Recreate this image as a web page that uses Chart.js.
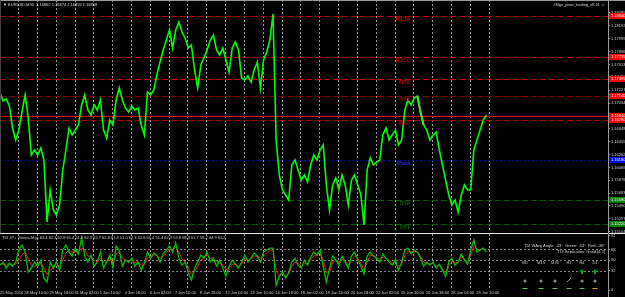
<!DOCTYPE html>
<html>
<head>
<meta charset="utf-8">
<script src="https://cdn.jsdelivr.net/npm/chart.js@4"></script>
<style>
  html, body { margin: 0; padding: 0; background: #000; }
  #wrap { position: relative; width: 625px; height: 297px; overflow: hidden; background: #000; }
  canvas { position: absolute; left: 0; }
  #main { top: 0; }
  #tdi { top: 233px; }
</style>
</head>
<body>
<div id="wrap">
  <canvas id="main" width="625" height="233"></canvas>
  <canvas id="tdi" width="625" height="64"></canvas>
</div>
<script>
// time axis (trading hours since the left edge of the chart)
const timeLabels = ["25 May 2018", "28 May 10:00", "29 May 18:00", "31 May 02:00", "1 Jun 10:00",
  "4 Jun 18:00", "6 Jun 02:00", "7 Jun 10:00", "8 Jun 18:00", "12 Jun 02:00", "13 Jun 10:00",
  "14 Jun 18:00", "18 Jun 02:00", "19 Jun 10:00", "20 Jun 18:00", "22 Jun 02:00", "25 Jun 10:00",
  "26 Jun 18:00", "28 Jun 02:00", "29 Jun 10:00"];
const timeTickHours = [0, 31, 63, 95, 127, 159, 191, 223, 255, 287, 319, 351, 383, 415, 447, 479, 511, 543, 575, 607];
const barHours = 4; // one value every 4 hours

// EURUSD, sampled every 4 hours
const priceClose = [
  1.17185, 1.17065, 1.17095, 1.1699, 1.1666, 1.1648, 1.1663, 1.169, 1.17155, 1.1681,
  1.16255, 1.1633, 1.16255, 1.1636, 1.1618, 1.1525, 1.1573, 1.1543, 1.15355, 1.15505,
  1.1603, 1.1633, 1.1666, 1.16555, 1.1663, 1.16705, 1.17005, 1.17155, 1.1693, 1.16855,
  1.17005, 1.1693, 1.1708, 1.1663, 1.1651, 1.1678, 1.16705, 1.1708, 1.1726, 1.1708,
  1.1696, 1.169, 1.1699, 1.1693, 1.1696, 1.16705, 1.16555, 1.172, 1.17155, 1.1723,
  1.17455, 1.1765, 1.1783, 1.1798, 1.1813, 1.1786, 1.1813, 1.1825, 1.181, 1.1801,
  1.1786, 1.17905, 1.1753, 1.1726, 1.17605, 1.1771, 1.1783, 1.1798, 1.18055, 1.1783,
  1.17755, 1.1786, 1.1768, 1.175, 1.1786, 1.1795, 1.1783, 1.1741, 1.1738, 1.1744,
  1.1735, 1.1753, 1.1765, 1.1726, 1.1768, 1.178, 1.1798, 1.1837, 1.1648, 1.15955,
  1.1573, 1.15655, 1.1558, 1.16105, 1.1618, 1.1603, 1.1588, 1.15955, 1.1585, 1.16105,
  1.16255, 1.1618, 1.1633, 1.16405, 1.15805, 1.1543, 1.15805, 1.1591, 1.1573, 1.15955,
  1.15805, 1.15505, 1.1588, 1.15955, 1.15805, 1.15655, 1.15205, 1.1603, 1.1621, 1.16105,
  1.1615, 1.1618, 1.16555, 1.1666, 1.1648, 1.16555, 1.1663, 1.16405, 1.1648, 1.1693,
  1.1708, 1.17005, 1.1711, 1.1714, 1.169, 1.16705, 1.1663, 1.1648, 1.16555, 1.166,
  1.1633, 1.16105, 1.1588, 1.15655, 1.15505, 1.1558, 1.154, 1.15655, 1.15805, 1.1573,
  1.1573, 1.1633, 1.1648, 1.1663, 1.1678, 1.16855];
const highlightFrom = 133, highlightTo = 135;

const priceTicks = [1.18385, 1.18192, 1.17999, 1.17806, 1.17613, 1.17420, 1.17227, 1.17034, 1.16841,
  1.16648, 1.16455, 1.16262, 1.16069, 1.15876, 1.15683, 1.15490, 1.15297, 1.15104];

// fibo pivot levels
const levelNames = ["R138", "R100", "R78", "R61", "", "R38", "Pvot", "S38", "S61"];
const levelPrices = [1.1834, 1.17725, 1.17395, 1.1714, 1.1684, 1.1678, 1.1618, 1.1558, 1.1522];

// TDI
const tdiGreen = [
  41.7, 46.8, 36.7, 45.1, 40.0, 46.8, 67.1, 75.5, 63.7, 29.9,
  36.7, 46.8, 40.0, 50.2, 19.8, 13.0, 46.8, 36.7, 46.8, 33.3,
  67.1, 75.5, 63.7, 56.9, 70.4, 60.3, 87.3, 56.9, 46.8, 58.6,
  40.0, 46.8, 63.7, 36.7, 46.8, 58.6, 36.7, 73.8, 67.1, 40.0,
  50.2, 46.8, 53.5, 40.0, 46.8, 33.3, 45.1, 63.7, 53.5, 62.0,
  58.6, 46.8, 60.3, 67.1, 73.8, 63.7, 78.9, 53.5, 41.7, 46.8,
  29.9, 16.4, 36.7, 46.8, 58.6, 53.5, 63.7, 46.8, 53.5, 40.0,
  50.2, 36.7, 23.1, 40.0, 50.2, 43.4, 36.7, 46.8, 58.6, 46.8,
  53.5, 62.0, 56.9, 46.8, 63.7, 67.1, 70.4, 70.4, 7.9, 23.1,
  29.9, 19.8, 29.9, 46.8, 53.5, 41.7, 36.7, 50.2, 41.7, 55.2,
  63.7, 58.6, 67.1, 40.0, 13.0, 36.7, 56.9, 50.2, 41.7, 56.9,
  46.8, 36.7, 56.9, 63.7, 50.2, 40.0, 26.5, 56.9, 63.7, 56.9,
  53.5, 46.8, 60.3, 53.5, 46.8, 41.7, 50.2, 33.3, 46.8, 67.1,
  70.4, 60.3, 67.1, 63.7, 53.5, 40.0, 46.8, 41.7, 46.8, 36.7,
  43.4, 33.3, 23.1, 46.8, 53.5, 41.7, 46.8, 60.3, 50.2, 43.4,
  67.1, 84.0, 63.7, 67.1, 70.4, 63.7];
const tdiRed = [
  43.4, 43.4, 41.7, 43.4, 41.7, 43.4, 50.2, 58.6, 63.7, 53.5,
  41.7, 40.0, 41.7, 45.1, 36.7, 26.5, 33.3, 36.7, 41.7, 40.0,
  50.2, 62.0, 67.1, 63.7, 63.7, 63.7, 70.4, 67.1, 56.9, 56.9,
  50.2, 46.8, 53.5, 46.8, 46.8, 53.5, 46.8, 60.3, 63.7, 53.5,
  50.2, 48.5, 50.2, 46.8, 46.8, 41.7, 41.7, 53.5, 55.2, 58.6,
  58.6, 53.5, 56.9, 62.0, 68.8, 67.1, 72.1, 63.7, 51.9, 46.8,
  38.3, 26.5, 29.9, 40.0, 50.2, 53.5, 58.6, 53.5, 53.5, 46.8,
  48.5, 41.7, 33.3, 36.7, 43.4, 43.4, 40.0, 43.4, 51.9, 50.2,
  51.9, 56.9, 56.9, 53.5, 56.9, 62.0, 67.1, 67.1, 33.3, 23.1,
  26.5, 23.1, 26.5, 40.0, 46.8, 45.1, 40.0, 45.1, 43.4, 50.2,
  56.9, 58.6, 62.0, 50.2, 29.9, 29.9, 46.8, 50.2, 46.8, 51.9,
  48.5, 41.7, 50.2, 56.9, 53.5, 45.1, 33.3, 46.8, 58.6, 56.9,
  55.2, 50.2, 55.2, 53.5, 50.2, 45.1, 46.8, 40.0, 43.4, 56.9,
  65.4, 63.7, 65.4, 63.7, 56.9, 46.8, 45.1, 43.4, 45.1, 40.0,
  41.7, 36.7, 28.2, 40.0, 48.5, 45.1, 46.8, 55.2, 51.9, 46.8,
  58.6, 73.8, 68.8, 67.1, 68.8, 65.4];
const tdiTicks = [0, 32, 50, 68, 91];
const tdiLevels = [32, 50, 68];
const tfNames = ["M5", "M15", "M30", "H1", "H4", "D1"];

// ---- styles / layout ----
const FONT = "'Liberation Sans', Arial, sans-serif";
Chart.defaults.font.family = FONT;
const xMax = 775;
const gridStart = 23, gridStep = 24, gridEnd = 623;
const levelStyles = [
  { color: "#c00000", dash: [6, 3], box: "#ff0000" },
  { color: "#c00000", dash: [6, 3], box: "#ff0000" },
  { color: "#d00000", dash: [6, 3], box: "#ff0000" },
  { color: "#8a0000", dash: [6, 3], box: "#ff0000" },
  { color: "#e00000", dash: [], box: "#ff0000" },
  { color: "#b00000", dash: [6, 3], box: "#ff0000" },
  { color: "#0000b0", dash: [2, 2], box: "#0000ff" },
  { color: "#006000", dash: [6, 3], box: "#008000" },
  { color: "#006000", dash: [6, 3], box: "#008000" },
];

const pts = (arr) => arr.map((v, i) => ({ x: i * barHours, y: v }));

function drawVGrid(chart) {
  const { ctx, chartArea: a, scales: { x } } = chart;
  ctx.save();
  ctx.strokeStyle = "rgba(210,210,210,0.75)";
  ctx.lineWidth = 1;
  ctx.setLineDash([2, 2]);
  for (let t = gridStart; t <= gridEnd; t += gridStep) {
    const px = Math.round(x.getPixelForValue(t)) + 0.5;
    ctx.beginPath();
    ctx.moveTo(px, a.top);
    ctx.lineTo(px, a.bottom);
    ctx.stroke();
  }
  ctx.restore();
}

const mainDecor = {
  id: "mainDecor",
  beforeDatasetsDraw(chart) {
    const { ctx, chartArea: a, scales: { y } } = chart;
    drawVGrid(chart);
    ctx.save();
    levelPrices.forEach((p, i) => {
      const py = Math.round(y.getPixelForValue(p)) + 0.5;
      ctx.strokeStyle = levelStyles[i].color;
      ctx.lineWidth = 1;
      ctx.setLineDash(levelStyles[i].dash);
      ctx.beginPath();
      ctx.moveTo(a.left, py);
      ctx.lineTo(a.right, py);
      ctx.stroke();
    });
    ctx.restore();
  },
  afterDraw(chart) {
    const { ctx, chartArea: a, scales: { y } } = chart;
    ctx.save();
    // level names
    ctx.font = "bold 6px " + FONT;
    ctx.textAlign = "right";
    ctx.textBaseline = "middle";
    levelPrices.forEach((p, i) => {
      if (!levelNames[i]) return;
      ctx.fillStyle = levelStyles[i].color === "#0000b0" ? "#2030ff" : levelStyles[i].color;
      ctx.fillText(levelNames[i], 410, y.getPixelForValue(p) + 3);
    });
    // price boxes on the axis
    ctx.font = "4px " + FONT;
    ctx.textAlign = "left";
    levelPrices.forEach((p, i) => {
      const py = y.getPixelForValue(p);
      ctx.fillStyle = levelStyles[i].box;
      ctx.fillRect(a.right + 1, py - 3, 16, 6);
      ctx.fillStyle = "#ffffff";
      ctx.fillText(p.toFixed(5), a.right + 3, py);
    });
    // frame
    ctx.strokeStyle = "#9a9a9a";
    ctx.beginPath();
    ctx.moveTo(0, 0.5); ctx.lineTo(625, 0.5);
    ctx.moveTo(a.right + 0.5, 0); ctx.lineTo(a.right + 0.5, 233);
    ctx.stroke();
    ctx.strokeStyle = "#444";
    ctx.beginPath(); ctx.moveTo(0.5, 0); ctx.lineTo(0.5, 233); ctx.stroke();
    // titles
    ctx.fillStyle = "#d8d8d8";
    ctx.font = "4px " + FONT;
    ctx.textBaseline = "middle";
    ctx.fillText("\u25BC EURUSD,M30  1.16862 1.16874 1.16855 1.16868", 3, 5);
    ctx.textAlign = "right";
    ctx.fillText("#Mgs_pivot_trading_v8.11 \u263A", 605, 5);
    ctx.restore();
  }
};

const tdiDecor = {
  id: "tdiDecor",
  beforeDatasetsDraw(chart) {
    const { ctx, chartArea: a, scales: { y } } = chart;
    drawVGrid(chart);
    ctx.save();
    ctx.strokeStyle = "rgba(190,190,190,0.7)";
    ctx.setLineDash([2, 2]);
    tdiLevels.forEach((v) => {
      const py = Math.round(y.getPixelForValue(v)) + 0.5;
      ctx.beginPath(); ctx.moveTo(a.left, py); ctx.lineTo(a.right, py); ctx.stroke();
    });
    ctx.restore();
  },
  afterDraw(chart) {
    const { ctx, chartArea: a } = chart;
    ctx.save();
    ctx.strokeStyle = "#e8e8e8";
    ctx.beginPath(); ctx.moveTo(0, 0.5); ctx.lineTo(625, 0.5); ctx.stroke();
    ctx.strokeStyle = "#9a9a9a";
    ctx.beginPath(); ctx.moveTo(a.right + 0.5, 0); ctx.lineTo(a.right + 0.5, 64); ctx.stroke();
    ctx.font = "4px " + FONT;
    ctx.textBaseline = "middle";
    ctx.fillStyle = "#d0d0d0";
    ctx.fillText("TDI 4T+ Green+Mgs 63.4 62.3 62.8 61.4 51.2 62.3 62.7 62.8 61.4 51.0 62.3 52.8 61.4 51.4 62.3 52.8 68.4 61.7 58.2 44.9 61.2", 2, 5);
    ctx.textAlign = "right";
    ctx.fillText("TDI WAvg Angle: -43\u00B0  Green: -53\u00B0  Red: -38\u00B0", 605, 13);
    ctx.fillText("TDI Separation: Good [4.2]", 605, 19);
    const tfX = [525, 541, 555, 569, 582, 595];
    ctx.textAlign = "center";
    tfNames.forEach((n, i) => {
      ctx.fillStyle = "#c8c8c8";
      ctx.fillText(n, tfX[i], 30);
      // status dot / arrow
      if (n === "H1") {
        ctx.strokeStyle = "#9a9a9a";
        ctx.beginPath(); ctx.moveTo(tfX[i] - 2, 49); ctx.lineTo(tfX[i] + 2, 45); ctx.stroke();
      } else {
        ctx.fillStyle = "#8a8a8a";
        ctx.beginPath(); ctx.arc(tfX[i], 48, 1.6, 0, Math.PI * 2); ctx.fill();
      }
      if (n === "H4" || n === "D1") {
        ctx.fillStyle = "#00b000";
        ctx.beginPath();
        ctx.moveTo(tfX[i], 36); ctx.lineTo(tfX[i] + 2.5, 39); ctx.lineTo(tfX[i] - 2.5, 39); ctx.closePath(); ctx.fill();
        ctx.fillRect(tfX[i] - 1, 39, 2, 2);
      }
      ctx.fillStyle = n === "D1" ? "#e0a030" : "#60c060";
      ctx.fillRect(tfX[i] - 2.5, 55, 5, 1);
    });
    ctx.restore();
  }
};

new Chart(document.getElementById("main"), {
  type: "line",
  data: {
    datasets: [
      { data: pts(priceClose), borderColor: "#00ff00", borderWidth: 1.6, pointRadius: 0, tension: 0 },
      { data: pts(priceClose).slice(highlightFrom, highlightTo + 1), borderColor: "#ff80d0", borderWidth: 2, pointRadius: 0 },
    ],
  },
  options: {
    responsive: false,
    animation: false,
    events: [],
    layout: { padding: { top: 0, bottom: 1, left: 0, right: 0 } },
    plugins: { legend: { display: false }, tooltip: { enabled: false } },
    scales: {
      x: { type: "linear", min: 0, max: xMax, display: false },
      y: {
        position: "right",
        min: 1.1510,
        max: 1.1858,
        afterFit(s) { s.width = 17; s.paddingTop = 0; s.paddingBottom = 0; },
        afterBuildTicks(s) { s.ticks = priceTicks.map((v) => ({ value: v })); },
        ticks: { color: "#d0d0d0", font: { size: 4 }, padding: 1, callback: (v) => v.toFixed(5) },
        grid: { drawOnChartArea: false, tickLength: 2, color: "#a0a0a0" },
        border: { color: "#9a9a9a" },
      },
    },
  },
  plugins: [mainDecor],
});

new Chart(document.getElementById("tdi"), {
  type: "line",
  data: {
    datasets: [
      { data: pts(tdiGreen), borderColor: "#00c000", borderWidth: 1.3, pointRadius: 0, tension: 0 },
      { data: pts(tdiRed), borderColor: "#ff1a1a", borderWidth: 1, pointRadius: 0, tension: 0 },
    ],
  },
  options: {
    responsive: false,
    animation: false,
    events: [],
    layout: { padding: { top: 1, bottom: 0, left: 0, right: 0 } },
    plugins: { legend: { display: false }, tooltip: { enabled: false } },
    scales: {
      x: {
        type: "linear", min: 0, max: xMax,
        afterFit(s) { s.height = 7; s.paddingLeft = 0; s.paddingRight = 0; },
        afterBuildTicks(s) { s.ticks = timeTickHours.map((v) => ({ value: v })); },
        ticks: {
          color: "#d0d0d0", font: { size: 4 }, padding: 0, align: "start",
          autoSkip: false, maxRotation: 0, minRotation: 0,
          callback: (v, i) => timeLabels[i],
        },
        grid: { display: false, drawTicks: false },
        border: { display: false },
      },
      y: {
        position: "right",
        min: 0,
        max: 94,
        afterFit(s) { s.width = 17; s.paddingTop = 0; s.paddingBottom = 0; },
        afterBuildTicks(s) { s.ticks = tdiTicks.map((v) => ({ value: v })); },
        ticks: { color: "#d0d0d0", font: { size: 4 }, padding: 1 },
        grid: { drawOnChartArea: false, tickLength: 2, color: "#a0a0a0" },
        border: { color: "#9a9a9a" },
      },
    },
  },
  plugins: [tdiDecor],
});
</script>
</body>
</html>
